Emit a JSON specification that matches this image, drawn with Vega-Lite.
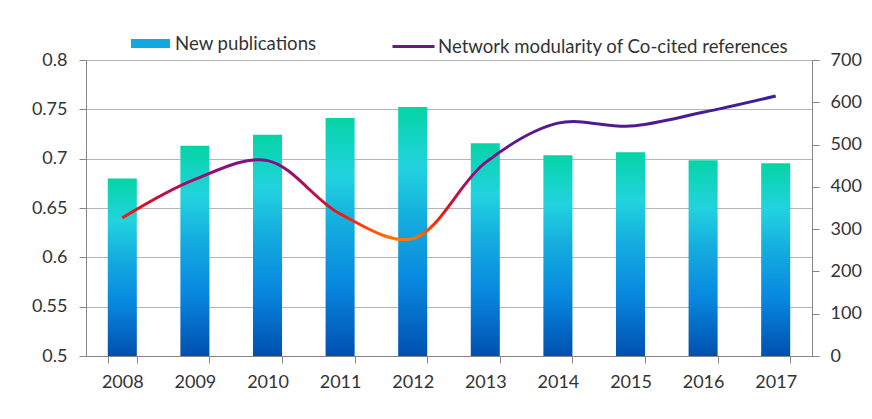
{
  "$schema": "https://vega.github.io/schema/vega-lite/v6.json",
  "width": 726,
  "height": 296,
  "autosize": "none",
  "padding": {"left": 86, "top": 60, "right": 60, "bottom": 63},
  "background": "white",
  "config": {
    "font": "Lato",
    "view": {"stroke": null},
    "axis": {
      "labelFont": "Lato",
      "labelFontSize": 18,
      "labelColor": "#333333",
      "domainColor": "#868686",
      "tickColor": "#868686",
      "tickSize": 7,
      "title": null
    },
    "legend": {"labelFont": "Lato", "labelFontSize": 18.6, "labelColor": "#333333", "padding": 0, "labelLimit": 600}
  },
  "data": {
    "values": [
      {"year": "2008", "pubs": 420, "mod": 0.640},
      {"year": "2009", "pubs": 497, "mod": 0.679},
      {"year": "2010", "pubs": 523, "mod": 0.698},
      {"year": "2011", "pubs": 563, "mod": 0.644},
      {"year": "2012", "pubs": 589, "mod": 0.619},
      {"year": "2013", "pubs": 503, "mod": 0.696},
      {"year": "2014", "pubs": 475, "mod": 0.736},
      {"year": "2015", "pubs": 482, "mod": 0.733},
      {"year": "2016", "pubs": 463, "mod": 0.747},
      {"year": "2017", "pubs": 456, "mod": 0.7635}
    ]
  },
  "encoding": {
    "x": {
      "field": "year",
      "type": "ordinal",
      "scale": {"paddingInner": 0.6, "paddingOuter": 0.3},
      "axis": {"labelAngle": 0, "tickBand": "extent", "labelPadding": 10, "domainColor": "#868686"}
    }
  },
  "layer": [
    {
      "mark": {
        "type": "bar",
        "fill": {"gradient": "linear", "x1": 0, "y1": 1, "x2": 0, "y2": 0,
          "stops": [
            {"offset": 0, "color": "#0050ae"},
            {"offset": 0.3, "color": "#0888e0"},
            {"offset": 0.55, "color": "#14acdf"},
            {"offset": 0.76, "color": "#22d3df"},
            {"offset": 1, "color": "#05d4a6"}
          ]}
      },
      "encoding": {
        "y": {
          "field": "pubs",
          "type": "quantitative",
          "scale": {"domain": [0, 700], "nice": false, "zero": true},
          "axis": {"orient": "right", "values": [0, 100, 200, 300, 400, 500, 600, 700], "grid": false, "labelPadding": 11}
        }
      }
    },
    {
      "mark": {
        "type": "line",
        "interpolate": "catmull-rom",
        "strokeWidth": 3,
        "stroke": {"gradient": "linear", "x1": 0, "y1": 0, "x2": 0, "y2": 1,
          "stops": [
            {"offset": 0, "color": "#3a1d9e"},
            {"offset": 0.3, "color": "#5f178f"},
            {"offset": 0.5, "color": "#8a0f80"},
            {"offset": 0.65, "color": "#b40e55"},
            {"offset": 0.78, "color": "#e0101e"},
            {"offset": 0.88, "color": "#ff2a0a"},
            {"offset": 1, "color": "#ff7a00"}
          ]}
      },
      "encoding": {
        "y": {
          "field": "mod",
          "type": "quantitative",
          "scale": {"domain": [0.5, 0.8], "nice": false, "zero": false},
          "axis": {
            "orient": "left",
            "values": [0.5, 0.55, 0.6, 0.65, 0.7, 0.75, 0.8],
            "format": "~g",
            "grid": true,
            "gridColor": "#b5b5b5",
            "labelPadding": 12
          }
        }
      }
    },
    {
      "mark": {"type": "point", "opacity": 0, "filled": true},
      "encoding": {
        "fill": {
          "datum": "New publications",
          "type": "nominal",
          "scale": {"domain": ["New publications"], "range": ["#12a8e0"]},
          "legend": {
            "orient": "none",
            "legendX": 45,
            "legendY": -36,
            "title": null,
            "symbolType": "M-1,-0.23H1V0.23H-1Z",
            "symbolSize": 1521,
            "symbolStrokeWidth": 0,
            "labelOffset": 5,
            "encode": {"symbols": {"update": {"opacity": {"value": 1}}}}
          }
        }
      }
    },
    {
      "mark": {"type": "point", "opacity": 0},
      "encoding": {
        "stroke": {
          "datum": "Network modularity of Co-cited references",
          "type": "nominal",
          "scale": {"domain": ["Network modularity of Co-cited references"], "range": ["#6a1882"]},
          "legend": {
            "orient": "none",
            "legendX": 305,
            "legendY": -36,
            "title": null,
            "symbolType": "stroke",
            "symbolSize": 1764,
            "symbolStrokeWidth": 3,
            "labelOffset": 2,
            "encode": {"symbols": {"update": {"opacity": {"value": 1}, "stroke": {"value": "#6a1882"}}}}
          }
        }
      }
    }
  ],
  "resolve": {"scale": {"y": "independent"}}
}
